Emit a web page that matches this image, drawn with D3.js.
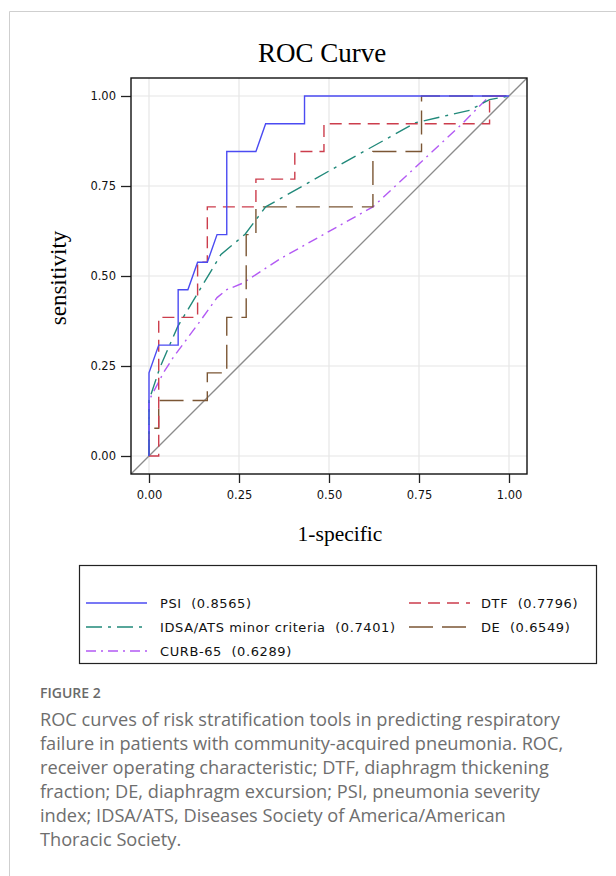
<!DOCTYPE html>
<html>
<head>
<meta charset="utf-8">
<script src="https://cdn.jsdelivr.net/npm/d3@7"></script>
<style>
  body { margin: 0; background: #fff; }
  text { white-space: pre; }
</style>
</head>
<body>
<div id="chart"></div>
<script>

//~~~~~~~~~~~~~~~~~~DATA SET
// each curve is a list of [1-specificity, sensitivity] points
let psi = [[0, 0], [0, 0.231], [0.027, 0.308], [0.081, 0.308], [0.081, 0.462], [0.108, 0.462],
  [0.135, 0.538], [0.162, 0.538], [0.189, 0.615], [0.216, 0.615], [0.216, 0.846], [0.297, 0.846],
  [0.324, 0.923], [0.432, 0.923], [0.432, 1], [1, 1]];

let dtf = [[0, 0], [0.027, 0], [0.027, 0.385], [0.135, 0.385], [0.135, 0.538], [0.162, 0.538],
  [0.162, 0.692], [0.297, 0.692], [0.297, 0.769], [0.405, 0.769], [0.405, 0.846], [0.486, 0.846],
  [0.486, 0.923], [0.946, 0.923], [0.946, 1], [1, 1]];

let idsa = [[0, 0], [0, 0.154], [0.03, 0.245], [0.08, 0.36], [0.137, 0.455], [0.2, 0.56],
  [0.267, 0.616], [0.324, 0.692], [0.374, 0.72], [0.55, 0.82], [0.741, 0.926], [0.89, 0.96],
  [0.946, 0.99], [1, 1]];

let de = [[0, 0], [0, 0.077], [0.027, 0.077], [0.027, 0.154], [0.162, 0.154], [0.162, 0.231],
  [0.216, 0.231], [0.216, 0.385], [0.27, 0.385], [0.27, 0.615], [0.297, 0.615], [0.297, 0.692],
  [0.622, 0.692], [0.622, 0.846], [0.757, 0.846], [0.757, 1], [1, 1]];

let curb = [[0, 0], [0, 0.154], [0.04, 0.231], [0.068, 0.275], [0.135, 0.365], [0.189, 0.44],
  [0.216, 0.462], [0.26, 0.48], [0.365, 0.548], [0.622, 0.692], [0.87, 0.923], [0.946, 1], [1, 1]];

let names = ['PSI', 'DTF', 'IDSA/ATS minor criteria', 'DE', 'CURB-65'];
let aucs = ['0.8565', '0.7796', '0.7401', '0.6549', '0.6289'];
let ticks = [0, 0.25, 0.5, 0.75, 1];

let captionLines = [
  'ROC curves of risk stratification tools in predicting respiratory',
  'failure in patients with community-acquired pneumonia. ROC,',
  'receiver operating characteristic; DTF, diaphragm thickening',
  'fraction; DE, diaphragm excursion; PSI, pneumonia severity',
  'index; IDSA/ATS, Diseases Society of America/American',
  'Thoracic Society.'
];

//~~~~~~~~~~~~~~~~~~VARIABLES
let width = 616;
let height = 876;

//plot box, data range 0..1 sits 18px inside it
let box = { left: 131, right: 527, top: 78, bottom: 474 };

let styles = [
  { color: '#4b4bf2', dash: null },
  { color: '#cc3d4c', dash: '12,7' },
  { color: '#21897a', dash: '16,6,3,6' },
  { color: '#7b5634', dash: '24,9' },
  { color: '#b35af4', dash: '10,5,2,5' }
];
let curves = [psi, dtf, idsa, de, curb];

let x = d3.scaleLinear().domain([-0.05, 1.05]).range([box.left, box.right]);
let y = d3.scaleLinear().domain([-0.05, 1.05]).range([box.bottom, box.top]);

let svg = d3.select('#chart')
  .append('svg')
  .attr('width', width)
  .attr('height', height);

//page frame lines
svg.append('path')
  .attr('d', 'M9.5,876 V11.5 H616')
  .attr('fill', 'none')
  .attr('stroke', '#cfcfcf');

//title
svg.append('text')
  .attr('x', 322)
  .attr('y', 62)
  .attr('text-anchor', 'middle')
  .style('font-family', 'Liberation Serif')
  .style('font-size', '27px')
  .text('ROC Curve');

//~~~~~~~~~~~~~~~~~~GRID + AXES
let grid = svg.append('g');
ticks.forEach(function (t) {
  grid.append('line')
    .attr('x1', x(t)).attr('x2', x(t))
    .attr('y1', box.top).attr('y2', box.bottom)
    .attr('stroke', '#e6e6e6').attr('stroke-width', 1.2);
  grid.append('line')
    .attr('x1', box.left).attr('x2', box.right)
    .attr('y1', y(t)).attr('y2', y(t))
    .attr('stroke', '#e6e6e6').attr('stroke-width', 1.2);
});

let xAxis = d3.axisBottom(x).tickValues(ticks).tickFormat(d3.format('.2f')).tickSize(9).tickPadding(8);
let yAxis = d3.axisLeft(y).tickValues(ticks).tickFormat(d3.format('.2f')).tickSize(10).tickPadding(5);

svg.append('g')
  .attr('transform', 'translate(0,' + box.bottom + ')')
  .call(xAxis)
  .call(function (g) { g.select('.domain').remove(); });

svg.append('g')
  .attr('transform', 'translate(' + box.left + ',0)')
  .call(yAxis)
  .call(function (g) { g.select('.domain').remove(); });

svg.selectAll('.tick text')
  .style('font-family', 'DejaVu Sans')
  .style('font-size', '11.5px')
  .attr('fill', '#111');
svg.selectAll('.tick line').attr('stroke', '#222').attr('stroke-width', 1.3);

//axis titles
svg.append('text')
  .attr('x', 340)
  .attr('y', 541)
  .attr('text-anchor', 'middle')
  .style('font-family', 'Liberation Serif')
  .style('font-size', '21.5px')
  .text('1-specific');

svg.append('text')
  .attr('transform', 'translate(66,278) rotate(-90)')
  .attr('text-anchor', 'middle')
  .style('font-family', 'Liberation Serif')
  .style('font-size', '23px')
  .text('sensitivity');

//~~~~~~~~~~~~~~~~~~CURVES
svg.append('clipPath')
  .attr('id', 'plotclip')
  .append('rect')
  .attr('x', box.left).attr('y', box.top)
  .attr('width', box.right - box.left).attr('height', box.bottom - box.top);

let plot = svg.append('g').attr('clip-path', 'url(#plotclip)');

//reference diagonal runs corner to corner
plot.append('line')
  .attr('x1', x(-0.05)).attr('y1', y(-0.05))
  .attr('x2', x(1.05)).attr('y2', y(1.05))
  .attr('stroke', '#8c8c8c').attr('stroke-width', 1.3);

let line = d3.line()
  .x(function (d) { return x(d[0]); })
  .y(function (d) { return y(d[1]); });

//draw back to front so PSI ends up on top
[4, 3, 2, 1, 0].forEach(function (i) {
  plot.append('path')
    .datum(curves[i])
    .attr('d', line)
    .attr('fill', 'none')
    .attr('stroke', styles[i].color)
    .attr('stroke-width', 1.4)
    .attr('stroke-dasharray', styles[i].dash);
});

//plot frame
svg.append('rect')
  .attr('x', box.left).attr('y', box.top)
  .attr('width', box.right - box.left).attr('height', box.bottom - box.top)
  .attr('fill', 'none')
  .attr('stroke', '#111')
  .attr('stroke-width', 1.4);

//~~~~~~~~~~~~~~~~~~LEGEND
svg.append('rect')
  .attr('x', 79.5).attr('y', 565.5)
  .attr('width', 517).attr('height', 98)
  .attr('fill', 'none')
  .attr('stroke', '#222')
  .attr('stroke-width', 1.2);

//slot for each series: column x, row y
let legendPos = [
  { lx: 86, ty: 603 },
  { lx: 409, ty: 603 },
  { lx: 86, ty: 627 },
  { lx: 409, ty: 627 },
  { lx: 86, ty: 651 }
];

let legend = svg.selectAll('.legend')
  .data(names)
  .enter()
  .append('g')
  .attr('class', 'legend')
  .attr('transform', function (d, i) {
    return 'translate(' + legendPos[i].lx + ',' + legendPos[i].ty + ')';
  });

legend.append('line')
  .attr('x1', 0).attr('x2', 61)
  .attr('y1', 0).attr('y2', 0)
  .attr('stroke', function (d, i) { return styles[i].color; })
  .attr('stroke-width', 1.4)
  .attr('stroke-dasharray', function (d, i) { return styles[i].dash; });

legend.append('text')
  .attr('x', function (d, i) { return i === 1 || i === 3 ? 72 : 74; })
  .attr('y', 5)
  .style('font-family', 'DejaVu Sans')
  .style('font-size', '13px')
  .style('letter-spacing', '0.6px')
  .attr('fill', '#111')
  .text(function (d, i) { return d + '  (' + aucs[i] + ')'; });

//~~~~~~~~~~~~~~~~~~CAPTION
svg.append('text')
  .attr('x', 40)
  .attr('y', 698)
  .style('font-family', 'Open Sans')
  .style('font-size', '14px')
  .style('font-weight', 600)
  .attr('fill', '#6a6a6a')
  .text('FIGURE 2');

svg.selectAll('.cap')
  .data(captionLines)
  .enter()
  .append('text')
  .attr('class', 'cap')
  .attr('x', 40)
  .attr('y', function (d, i) { return 726 + i * 24; })
  .style('font-family', 'Open Sans')
  .style('font-size', '18.2px')
  .attr('fill', '#6e6e6e')
  .text(function (d) { return d; });

</script>
</body>
</html>
